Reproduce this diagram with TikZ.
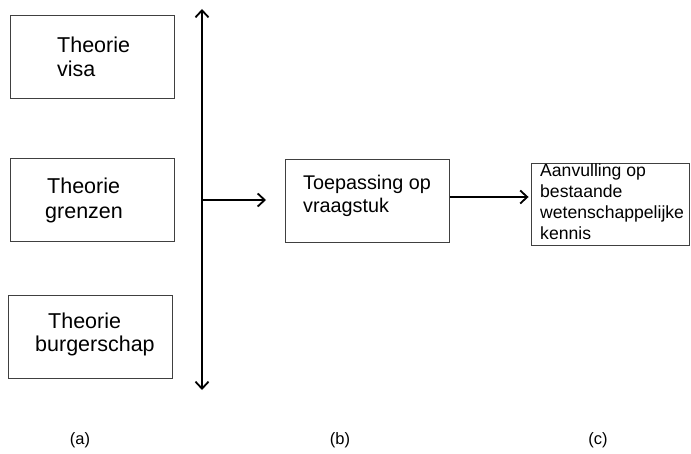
\documentclass[tikz,border=0pt]{standalone}
\usepackage{fontspec}
\setmainfont{Liberation Sans}
\usetikzlibrary{arrows.meta}
\begin{document}
\begin{tikzpicture}[x=1pt,y=-1pt,
  box/.style={draw=black!75,line width=0.9pt,rectangle,inner sep=0pt,minimum width=164pt,minimum height=83pt},
  txt/.style={inner sep=0pt,align=left,anchor=base west},
  barb/.tip={Straight Barb[length=7pt,width=13pt,line width=1.8pt]},
  flow/.style={line width=2pt,-barb},
  caption/.style={font=\fontsize{16.5}{19}\selectfont,inner sep=0pt}]
\useasboundingbox (0,0) rectangle (691,454);
% three theory boxes (text anchors sit on the baseline of the last line)
\node[box] (a1) at (92,56.5) {};
\node[txt,font=\fontsize{21.5}{24}\selectfont] (t1) at (57,77) {Theorie\\visa};
\node[box] (a2) at (92,199.5) {};
\node[txt,font=\fontsize{21.5}{25}\selectfont] (t2) at (45,219) {\hspace*{2pt}Theorie\\grenzen};
\node[box] (a3) at (90,336.5) {};
\node[txt,font=\fontsize{21.5}{23}\selectfont] (t3) at (35,352) {\hspace*{13pt}Theorie\\burgerschap};
% vertical double arrow and branch to the application box
\coordinate (vtop) at (202,9);
\coordinate (vbot) at (202,390);
\coordinate (vmid) at (202,200);
\coordinate (bin) at (266,200);
\draw[line width=2pt,barb-barb] (vtop) -- (vbot);
\draw[flow] (vmid) -- (bin);
% application box
\node[box] (b) at (367,200.5) {};
\node[txt,font=\fontsize{19.8}{23}\selectfont] (bt) at (303,213) {Toepassing op\\vraagstuk};
% contribution box
\node[box,minimum width=158pt,minimum height=82pt] (c) at (610,204) {};
\node[txt,font=\fontsize{17.6}{21}\selectfont] (ct) at (540,240) {Aanvulling op\\bestaande\\wetenschappelijke\\kennis};
\draw[flow,shorten <=1pt,shorten >=2pt] ([yshift=3.5pt]b.east) -- ([yshift=7pt]c.west);
% captions
\node[caption] (la) at (80,440) {(a)};
\node[caption] (lb) at (340,440) {(b)};
\node[caption] (lc) at (598,440) {(c)};
\end{tikzpicture}
\end{document}
